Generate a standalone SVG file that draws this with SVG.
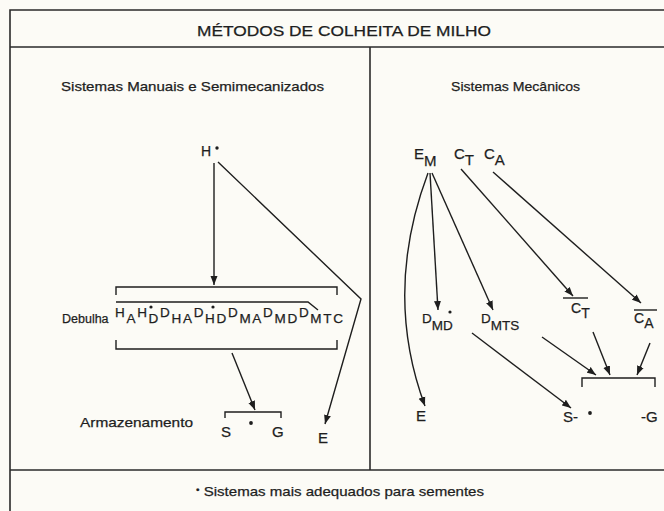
<svg xmlns="http://www.w3.org/2000/svg" width="664" height="511" viewBox="0 0 664 511">
<style>
  text { font-family: "Liberation Sans", Arial, sans-serif; fill: #1e1e1e; stroke: #1e1e1e; stroke-width: 0.25; }
  .t12 { font-size: 12.5px; }
  .t13 { font-size: 13.5px; }
  .t14 { font-size: 14px; }
  .big { font-size: 15px; }
  .frame { stroke: #2a2a2a; stroke-width: 1.6; fill: none; }
  .ln { stroke: #1e1e1e; stroke-width: 1.4; fill: none; }
  .arr { stroke: #1e1e1e; stroke-width: 1.4; fill: none; marker-end: url(#ah); }
</style>
<defs>
  <marker id="ah" markerWidth="10" markerHeight="8" refX="9" refY="4" orient="auto" markerUnits="userSpaceOnUse">
    <path d="M0,0.5 L9,4 L0,7.5 z" fill="#1e1e1e"/>
  </marker>
</defs>
<rect x="0" y="0" width="664" height="511" fill="#fcfbf6"/>

<g id="frame">
  <path class="frame" d="M10,511 V10 H664"/>
  <path class="frame" d="M10,47 H664"/>
  <path class="frame" d="M370,47 V470"/>
  <path class="frame" d="M10,470 H664"/>
</g>

<g id="title">
  <text class="t14" x="197" y="36" textLength="294" lengthAdjust="spacingAndGlyphs">MÉTODOS DE COLHEITA DE MILHO</text>
</g>
<g id="heading-manual">
  <text class="t13" x="61" y="91" textLength="263" lengthAdjust="spacingAndGlyphs">Sistemas Manuais e Semimecanizados</text>
</g>
<g id="heading-mecanicos">
  <text class="t13" x="451" y="91" textLength="129" lengthAdjust="spacingAndGlyphs">Sistemas Mecânicos</text>
</g>

<!-- Left column -->
<g id="node-H">
  <text class="t14" x="201" y="156">H</text>
  <circle cx="217" cy="148" r="1.7" fill="#1e1e1e"/>
</g>
<g id="node-debulha-label">
  <text class="t12" x="62" y="323">Debulha</text>
</g>
<g id="node-debulha">
  <path class="ln" d="M116,295 V287 H337 V295"/>
  <path class="ln" d="M116,302 H308 L318,310"/>
  <text class="t13" x="115" y="317" textLength="228" lengthAdjust="spacing">H<tspan dy="6">A</tspan><tspan dy="-6">H</tspan><tspan dy="6">D</tspan><tspan dy="-6">D</tspan><tspan dy="6">HA</tspan><tspan dy="-6">D</tspan><tspan dy="6">HD</tspan><tspan dy="-6">D</tspan><tspan dy="6">MA</tspan><tspan dy="-6">D</tspan><tspan dy="6">MD</tspan><tspan dy="-6">D</tspan><tspan dy="6">MTC</tspan></text>
  <circle cx="151" cy="307" r="1.6" fill="#1e1e1e"/>
  <circle cx="213" cy="307" r="1.6" fill="#1e1e1e"/>
  <path class="ln" d="M116,340 V349 H337 V340"/>
</g>
<g id="node-armazenamento-label">
  <text class="t13" x="80" y="427" textLength="113" lengthAdjust="spacingAndGlyphs">Armazenamento</text>
</g>
<g id="node-armazenamento">
  <path class="ln" d="M225,418 V412 H281 V418"/>
  <text class="big" x="221" y="437">S</text>
  <circle cx="251" cy="423" r="1.9" fill="#1e1e1e"/>
  <text class="big" x="272" y="437">G</text>
</g>
<g id="node-E-left">
  <text class="big" x="318" y="443">E</text>
</g>

<!-- Right column -->
<g id="node-EM">
  <text class="big" x="414" y="159">E<tspan dy="7">M</tspan></text>
</g>
<g id="node-CT">
  <text class="big" x="454" y="159">C<tspan dy="6">T</tspan></text>
</g>
<g id="node-CA">
  <text class="big" x="484" y="159">C<tspan dy="6">A</tspan></text>
</g>
<g id="node-DMD">
  <text class="t13" x="422" y="323">D<tspan dy="7">MD</tspan></text>
  <circle cx="450" cy="312" r="1.6" fill="#1e1e1e"/>
</g>
<g id="node-DMTS">
  <text class="t13" x="481" y="323">D<tspan dy="7">MTS</tspan></text>
</g>
<g id="node-CT-bar">
  <path class="ln" d="M563,298 H588"/>
  <text class="t14" x="571" y="313">C<tspan dy="5">T</tspan></text>
</g>
<g id="node-CA-bar">
  <path class="ln" d="M634,310 H657"/>
  <text class="t14" x="634" y="323">C<tspan dy="5">A</tspan></text>
</g>
<g id="node-bracket-right">
  <path class="ln" d="M582,387 V378 H655 V387"/>
</g>
<g id="node-E-right">
  <text class="big" x="416" y="421">E</text>
</g>
<g id="node-S-G-right">
  <text class="big" x="563" y="422">S-</text>
  <circle cx="590" cy="413" r="1.9" fill="#1e1e1e"/>
  <text class="big" x="641" y="422">-G</text>
</g>

<g id="footer">
  <text class="t13" x="196" y="496" textLength="288" lengthAdjust="spacingAndGlyphs"><tspan dy="-3" font-size="9">•</tspan><tspan dy="3"> Sistemas mais adequados para sementes</tspan></text>
</g>

<g id="connectors">
  <path class="arr" d="M214,163 V285"/>
  <path class="arr" d="M218,162 L361,299 L325,424"/>
  <path class="arr" d="M232,353 L255,410"/>
  <path class="arr" d="M428,173 Q383,293 425,406"/>
  <path class="arr" d="M430,173 L438,310"/>
  <path class="arr" d="M432,173 L493,310"/>
  <path class="arr" d="M461,169 L573,296"/>
  <path class="arr" d="M493,172 L641,303"/>
  <path class="arr" d="M472,333 L571,408"/>
  <path class="arr" d="M542,337 L596,375"/>
  <path class="arr" d="M593,332 L610,375"/>
  <path class="arr" d="M650,343 L637,375"/>
</g>
</svg>
